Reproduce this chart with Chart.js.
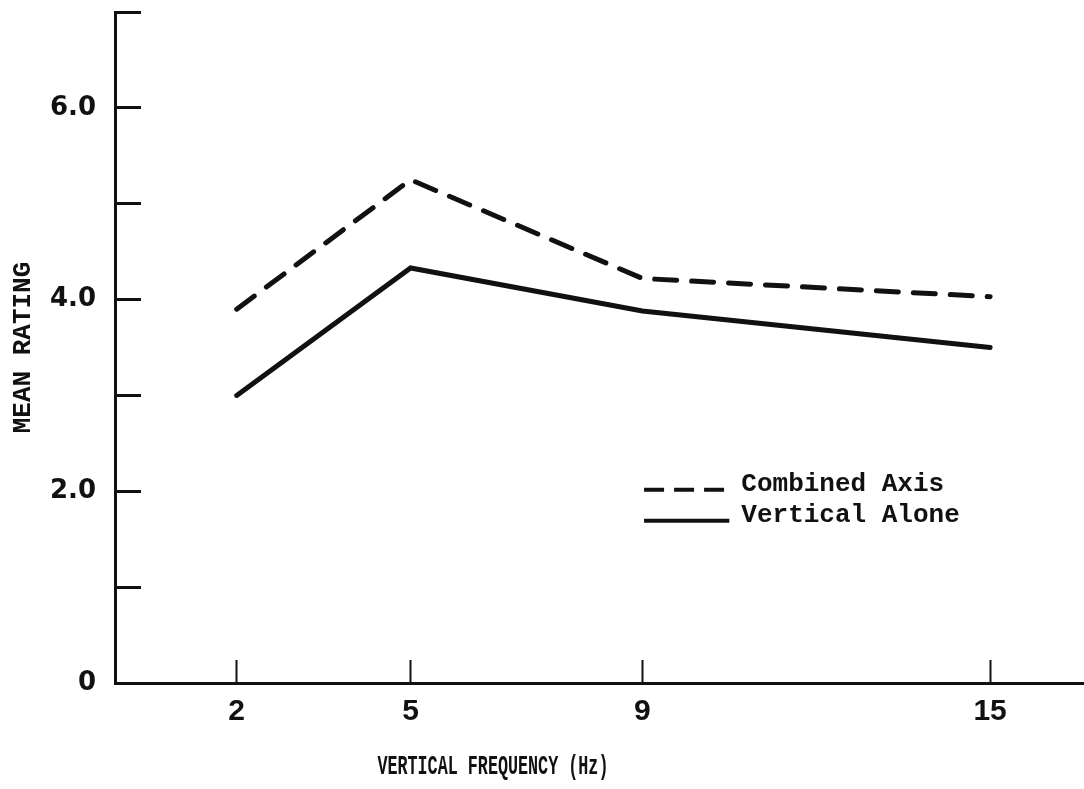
<!DOCTYPE html>
<html>
<head>
<meta charset="utf-8">
<script src="https://cdn.jsdelivr.net/npm/chart.js@4.4.1/dist/chart.umd.min.js"></script>
<style>
  body { margin: 0; background: #fff; }
  canvas { display: block; }
</style>
</head>
<body>
<canvas id="myChart" width="1084" height="789"></canvas>
<script>
// frequencies (Hz) and mean ratings for each condition
const frequencies = [2, 5, 9, 15];
const combinedAxis = [3.9, 5.25, 4.22, 4.03];
const verticalAlone = [3.0, 4.33, 3.88, 3.5];
const seriesNames = ["Combined Axis", "Vertical Alone"];

const yTickValues = [0, 1, 2, 3, 4, 5, 6, 7];
const yTickLabels = ["0", "", "2.0", "", "4.0", "", "6.0", ""];
const xTitle = "VERTICAL FREQUENCY (Hz)";

const ink = "#111";
const typewriter = "'Liberation Mono', 'DejaVu Sans Mono', monospace";

// legend drawn inside the plot, below the lines
const insideLegend = {
    id: "insideLegend",
    afterDatasetsDraw(chart){
        const ctx = chart.ctx;
        const area = chart.chartArea;
        const x0 = area.left + area.width * 0.546;
        const x1 = area.left + area.width * 0.634;
        let y = area.top + area.height * 0.712;
        ctx.save();
        ctx.font = "bold 26px " + typewriter;
        ctx.textBaseline = "middle";
        ctx.fillStyle = ink;
        chart.data.datasets.forEach(ds => {
            ctx.beginPath();
            ctx.lineWidth = 4;
            ctx.strokeStyle = ink;
            ctx.setLineDash(ds.borderDash.length ? [20, 10] : []);
            ctx.moveTo(x0, y);
            ctx.lineTo(x1, y);
            ctx.stroke();
            ctx.setLineDash([]);
            ctx.fillText(ds.label, x1 + 12, y - 5);
            y += 31;
        });
        ctx.restore();
    }
};

// x axis title, narrow typewriter face, sitting left of centre
const xAxisTitle = {
    id: "xAxisTitle",
    afterDraw(chart){
        const ctx = chart.ctx;
        const area = chart.chartArea;
        const cx = area.left + area.width * 0.39;
        const cy = chart.height - 22;
        ctx.save();
        ctx.translate(cx, cy);
        ctx.scale(0.62, 1);
        ctx.font = "bold 27px " + typewriter;
        ctx.textAlign = "center";
        ctx.textBaseline = "middle";
        ctx.fillStyle = ink;
        ctx.fillText(xTitle, 0, 0);
        ctx.restore();
    }
};

drawChart();

function drawChart(){
    const ctx = document.querySelector("#myChart");

    new Chart(ctx, {
        type: "line",
        data: {
            datasets: [
                {
                    label: seriesNames[0],
                    data: frequencies.map((f, i) => ({x: f, y: combinedAxis[i]})),
                    borderColor: ink,
                    borderWidth: 5,
                    borderDash: [22, 15],
                    borderCapStyle: "round",
                    pointRadius: 0,
                    tension: 0
                },
                {
                    label: seriesNames[1],
                    data: frequencies.map((f, i) => ({x: f, y: verticalAlone[i]})),
                    borderColor: ink,
                    borderWidth: 5,
                    borderDash: [],
                    borderCapStyle: "round",
                    pointRadius: 0,
                    tension: 0
                }
            ]
        },
        options: {
            responsive: false,
            animation: false,
            layout: { padding: { top: 12, right: 0, bottom: 0, left: 0 } },
            plugins: {
                legend: { display: false },
                tooltip: { enabled: false }
            },
            scales: {
                x: {
                    type: "linear",
                    min: -0.1,
                    max: 16.62,
                    afterBuildTicks(scale){
                        scale.ticks = frequencies.map(v => ({value: v}));
                    },
                    afterFit(scale){
                        scale.height = 106;
                        scale.paddingLeft = 0;
                        scale.paddingRight = 0;
                    },
                    border: { color: ink, width: 3 },
                    grid: {
                        drawOnChartArea: false,
                        tickLength: -23,
                        tickWidth: 2,
                        tickColor: ink
                    },
                    ticks: {
                        color: ink,
                        padding: 34,
                        font: { family: "'Liberation Sans', sans-serif", size: 30, weight: "bold" },
                        callback: v => String(v)
                    }
                },
                y: {
                    min: 0,
                    max: 7,
                    afterBuildTicks(scale){
                        scale.ticks = yTickValues.map(v => ({value: v}));
                    },
                    afterFit(scale){
                        scale.width = 115;
                        scale.paddingTop = 0;
                        scale.paddingBottom = 0;
                    },
                    border: { color: ink, width: 3 },
                    grid: {
                        drawOnChartArea: false,
                        tickLength: -26,
                        tickWidth: 3,
                        tickColor: ink
                    },
                    ticks: {
                        color: ink,
                        padding: 45,
                        font: { family: "'DejaVu Sans', sans-serif", size: 26, weight: "bold" },
                        callback: v => yTickLabels[yTickValues.indexOf(v)]
                    },
                    title: {
                        display: true,
                        text: "MEAN RATING",
                        color: ink,
                        font: { family: typewriter, size: 26, weight: "bold" },
                        padding: { top: 8, bottom: 0 }
                    }
                }
            }
        },
        plugins: [insideLegend, xAxisTitle]
    });
}
</script>
</body>
</html>
